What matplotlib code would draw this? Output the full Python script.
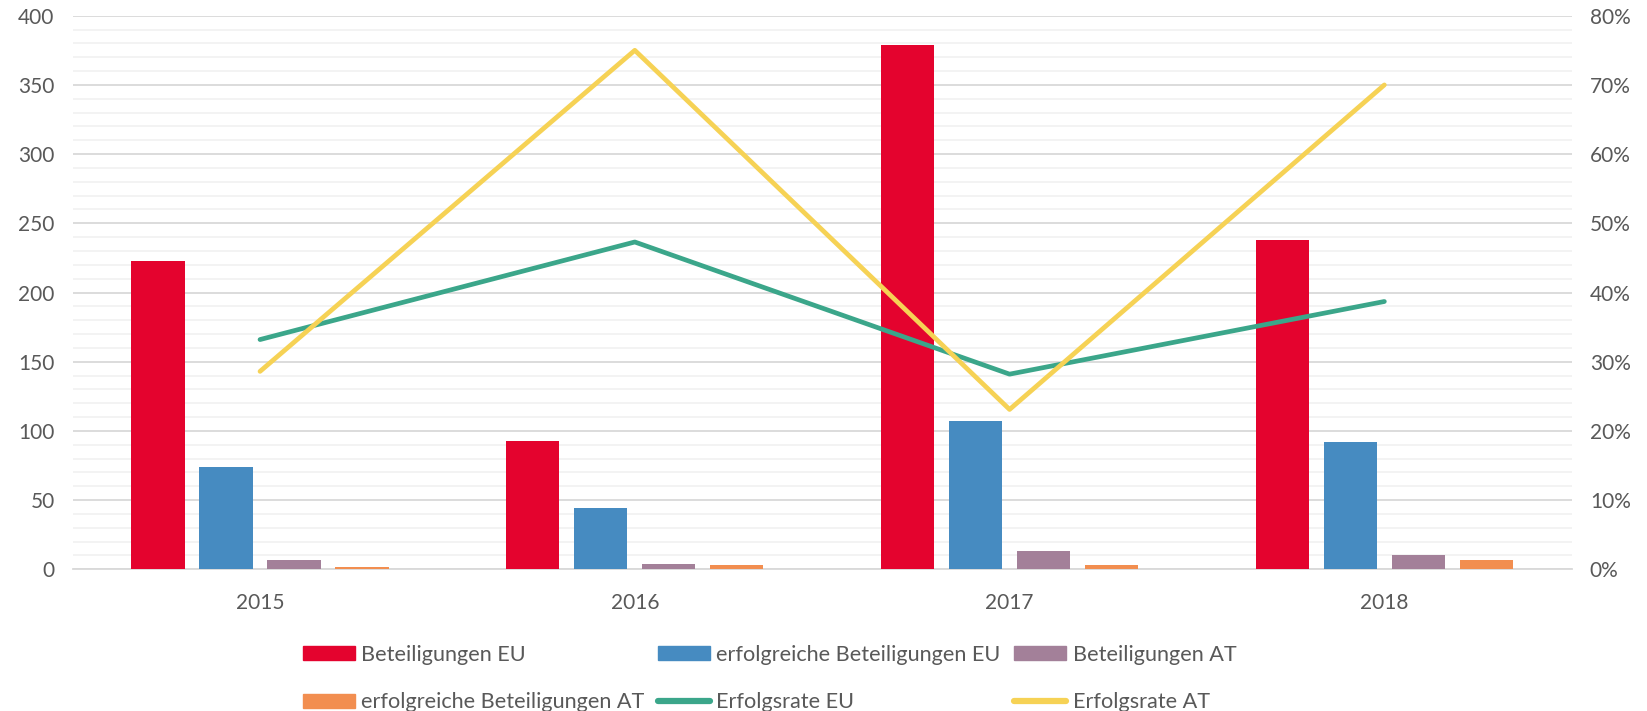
import matplotlib
matplotlib.use("Agg")
import matplotlib.pyplot as plt
import numpy as np
from matplotlib.ticker import MultipleLocator, FuncFormatter
from matplotlib.lines import Line2D
from matplotlib.patches import Patch

plt.rcParams['font.family'] = ['Lato', 'DejaVu Sans']

years = ["2015", "2016", "2017", "2018"]
beteiligungen_eu = [223, 93, 379, 238]
erfolgreiche_eu = [74, 44, 107, 92]
beteiligungen_at = [7, 4, 13, 10]
erfolgreiche_at = [2, 3, 3, 7]
erfolgsrate_eu = [33.2, 47.3, 28.2, 38.7]
erfolgsrate_at = [28.6, 75.0, 23.1, 70.0]

bar_series = [
    ("Beteiligungen EU", beteiligungen_eu, "#E4032E"),
    ("erfolgreiche Beteiligungen EU", erfolgreiche_eu, "#468BC1"),
    ("Beteiligungen AT", beteiligungen_at, "#A38099"),
    ("erfolgreiche Beteiligungen AT", erfolgreiche_at, "#F28E50"),
]
line_series = [
    ("Erfolgsrate EU", erfolgsrate_eu, "#3BA68A"),
    ("Erfolgsrate AT", erfolgsrate_at, "#F6D255"),
]

txt = "#595959"
fig = plt.figure(figsize=(16.47, 7.11), dpi=100)
ax = fig.add_axes([0.0441, 0.1993, 0.9102, 0.7786])
x = np.arange(len(years))
step = 0.1815
width = 0.142
for i, (name, vals, col) in enumerate(bar_series):
    ax.bar(x + (i - 1.5) * step, vals, width, color=col, zorder=3, label=name)

ax.set_xlim(-0.5, len(years) - 0.5)
ax.set_ylim(0, 400)
ax.yaxis.set_major_locator(MultipleLocator(50))
ax.yaxis.set_minor_locator(MultipleLocator(10))
ax.grid(axis='y', which='major', color='#D9D9D9', lw=1.3, zorder=0)
ax.grid(axis='y', which='minor', color='#F2F2F2', lw=1.3, zorder=0)
ax.set_axisbelow(True)
for s in ['top', 'right', 'left']:
    ax.spines[s].set_visible(False)
ax.spines['bottom'].set_color('#D9D9D9')
ax.spines['bottom'].set_linewidth(1.3)
ax.set_xticks(x)
ax.set_xticklabels(years)
ax.tick_params(axis='both', which='both', length=0, colors=txt, labelsize=15)
ax.tick_params(axis='x', pad=17)
ax.tick_params(axis='y', pad=13)

ax2 = ax.twinx()
for name, vals, col in line_series:
    ax2.plot(x, vals, color=col, lw=3.4, solid_capstyle='round', zorder=5, label=name)
ax2.set_ylim(0, 80)
ax2.yaxis.set_major_locator(MultipleLocator(10))
ax2.yaxis.set_major_formatter(FuncFormatter(lambda v, p: f"{v:.0f}%"))
for s in ['top', 'right', 'left', 'bottom']:
    ax2.spines[s].set_visible(False)
ax2.tick_params(axis='y', length=0, colors=txt, labelsize=15, pad=13)

handles = [Patch(color=c) for _, _, c in bar_series] + \
          [Line2D([0], [0], color=c, lw=4.5, solid_capstyle='round') for _, _, c in line_series]
labels = [n for n, _, _ in bar_series] + [n for n, _, _ in line_series]
# column-major order for a 3-column, 2-row legend
order = [0, 3, 1, 4, 2, 5]
leg = fig.legend([handles[i] for i in order], [labels[i] for i in order],
                 ncol=3, loc='center left', bbox_to_anchor=(0.1837, 0.0455),
                 frameon=False, fontsize=15.6, labelcolor=txt,
                 handlelength=2.4, handleheight=0.62, handletextpad=0.28,
                 columnspacing=0.65, labelspacing=1.27,
                 borderpad=0, borderaxespad=0)

fig.savefig("out.png", dpi=100)
